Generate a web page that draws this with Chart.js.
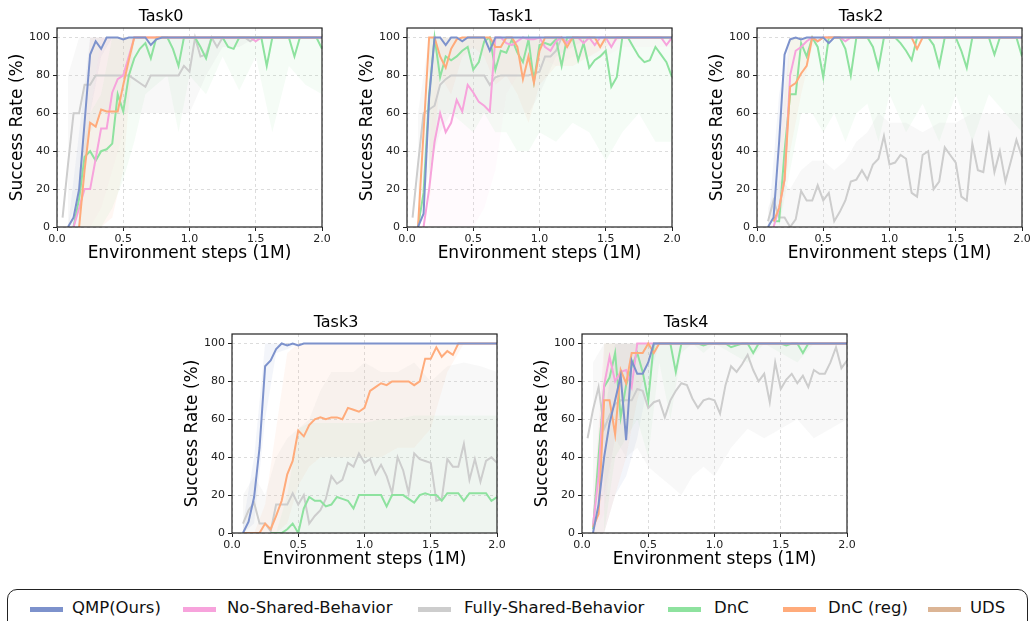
<!DOCTYPE html>
<html>
<head>
<meta charset="utf-8">
<script src="https://cdn.jsdelivr.net/npm/chart.js@4/dist/chart.umd.min.js"></script>
<style>
  html, body { margin: 0; padding: 0; background: #fff; }
  body { width: 1032px; height: 621px; position: relative; overflow: hidden; font-family: "DejaVu Sans", sans-serif; }
  canvas { position: absolute; }
  #legend { position: absolute; left: 7px; top: 589px; width: 1021px; height: 50px; border: 1.3px solid #222; border-radius: 10px; box-sizing: border-box; }
  .sw { position: absolute; height: 5px; width: 33px; top: 607px; }
  .lb { position: absolute; top: 598px; font-size: 16.5px; line-height: 20px; color: #111; white-space: nowrap; }
</style>
</head>
<body>
<div id="legend"></div>
<script>
// x positions of the logged evaluations (1M env steps)
const steps = [0.042, 0.083, 0.125, 0.167, 0.208, 0.25, 0.292, 0.333, 0.375, 0.417, 0.458, 0.5,
  0.542, 0.583, 0.625, 0.667, 0.708, 0.75, 0.792, 0.833, 0.875, 0.917, 0.958, 1.0,
  1.042, 1.083, 1.125, 1.167, 1.208, 1.25, 1.292, 1.333, 1.375, 1.417, 1.458, 1.5,
  1.542, 1.583, 1.625, 1.667, 1.708, 1.75, 1.792, 1.833, 1.875, 1.917, 1.958, 2.0];
// coarser x positions for the shaded std bands
const bandSteps = [0.083, 0.167, 0.25, 0.333, 0.417, 0.5, 0.583, 0.667, 0.75, 0.833,
  0.917, 1.0, 1.125, 1.25, 1.375, 1.5, 1.625, 1.75, 1.875, 2.0];
const xTicks = [0, 0.5, 1.0, 1.5, 2.0];
const yTicks = [0, 20, 40, 60, 80, 100];

const seriesKeys = ['qmp', 'noShared', 'fully', 'dnc', 'dncReg', 'uds'];
const seriesNames = ['QMP(Ours)', 'No-Shared-Behavior', 'Fully-Shared-Behavior', 'DnC', 'DnC (reg)', 'UDS'];
const taskTitles = ['Task0', 'Task1', 'Task2', 'Task3', 'Task4'];

// ---- Task0 ----
const task0Qmp = [null, 0, 5, 20, 55, 91, 98, 94, 100, 100, 100, 99,
  100, 100, 100, 100, 96, 99, 100, 100, 100, 100, 100, 100,
  100, 100, 100, 100, 100, 100, 100, 100, 100, 100, 100, 100,
  100, 100, 100, 100, 100, 100, 100, 100, 100, 100, 100, 100];
const task0NoShared = [null, null, 0, 10, 20, 20, 36, 52, 52, 71, 78, 80,
  90, 100, 100, 100, 100, 100, 100, 100, 100, 100, 100, 100,
  100, 100, 100, 100, 100, 100, 100, 100, 100, 100, 100, 98,
  100, 100, 100, 100, 100, 100, 100, 100, 100, 100, 100, 100];
const task0Fully = [5, 33, 60, 60, 75, 75, 80, 80, 80, 80, 80, 80,
  80, 78, 76, 74, 80, 80, 80, 80, 80, 80, 85, 82,
  100, 90, 91, 100, 95, 100, 100, 100, 100, 100, 98, 100,
  100, 100, 100, 100, 100, 100, 100, 100, 100, 100, 100, 100];
const task0DnC = [null, null, 0, 15, 37, 40, 35, 40, 41, 44, 70, 61,
  80, 89, 94, 97, 89, 100, 100, 100, 94, 85, 100, 100,
  100, 95, 89, 100, 100, 100, 95, 94, 100, 100, 100, 100,
  100, 85, 100, 100, 100, 100, 90, 100, 100, 100, 100, 94];
const task0DnCReg = [null, null, null, 0, 30, 55, 53, 62, 61, 61, 61, 75,
  88, 100, 100, 100, 100, 100, 100, 100, 100, 100, 100, 100,
  100, 100, 100, 100, 100, 100, 100, 100, 100, 100, 100, 100,
  100, 100, 100, 100, 100, 100, 100, 100, 100, 100, 100, 100];
const task0QmpLow = [0, 0, 60, 90, 100, 100, 100, 100, 100, 100, 100, 100, 100, 100, 100, 100, 100, 100, 100, 100];
const task0QmpHigh = [0, 50, 100, 100, 100, 100, 100, 100, 100, 100, 100, 100, 100, 100, 100, 100, 100, 100, 100, 100];
const task0FullyLow = [0, 20, 50, 60, 60, 60, 60, 60, 60, 60, 60, 60, 80, 95, 95, 100, 100, 100, 100, 100];
const task0FullyHigh = [80, 100, 100, 100, 100, 100, 100, 100, 100, 100, 100, 100, 100, 100, 100, 100, 100, 100, 100, 100];
const task0NoSharedLow = [null, 0, 0, 10, 30, 50, 100, 100, 100, 100, 100, 100, 100, 100, 100, 100, 100, 100, 100, 100];
const task0NoSharedHigh = [null, 30, 60, 100, 100, 100, 100, 100, 100, 100, 100, 100, 100, 100, 100, 100, 100, 100, 100, 100];
const task0DnCLow = [null, 0, 0, 0, 10, 25, 45, 70, 75, 80, 50, 80, 70, 90, 72, 90, 50, 85, 75, 70];
const task0DnCHigh = [null, 30, 60, 70, 100, 100, 100, 100, 100, 100, 100, 100, 100, 100, 100, 100, 100, 100, 100, 100];
const task0DnCRegLow = [null, 0, 0, 0, 5, 30, 100, 100, 100, 100, 100, 100, 100, 100, 100, 100, 100, 100, 100, 100];
const task0DnCRegHigh = [null, 20, 100, 100, 100, 100, 100, 100, 100, 100, 100, 100, 100, 100, 100, 100, 100, 100, 100, 100];

// ---- Task1 ----
const task1Qmp = [null, 0, 7, 68, 100, 100, 96, 100, 100, 98, 100, 100,
  100, 100, 93, 100, 100, 100, 100, 100, 100, 100, 100, 100,
  100, 100, 100, 100, 100, 100, 100, 100, 100, 100, 100, 100,
  100, 100, 100, 100, 100, 100, 100, 100, 100, 100, 100, 100];
const task1NoShared = [null, null, 0, 20, 45, 60, 50, 55, 67, 61, 75, 71,
  66, 64, 61, 100, 100, 97, 96, 98, 100, 99, 99, 100,
  95, 93, 98, 100, 97, 100, 100, 97, 100, 96, 100, 100,
  95, 100, 100, 100, 100, 100, 100, 100, 100, 100, 96, 100];
const task1Fully = [5, 33, 60, 62, 64, 75, 78, 80, 80, 80, 80, 80,
  80, 80, 75, 79, 80, 80, 80, 80, 80, 80, 81, 82,
  90, 90, 93, 100, 97, 100, 100, 100, 100, 100, 100, 100,
  100, 100, 100, 100, 100, 100, 100, 100, 100, 100, 100, 100];
const task1DnC = [null, 0, 18, 70, 100, 79, 90, 88, 90, 93, 95, 83,
  87, 98, 100, 83, 93, 92, 99, 92, 87, 99, 77, 96,
  97, 96, 99, 85, 100, 100, 88, 97, 84, 88, 90, 93,
  74, 79, 100, 100, 95, 90, 87, 88, 95, 91, 87, 79];
const task1DnCReg = [null, 0, 50, 100, 100, 90, 84, 94, 99, 100, 100, 100,
  100, 100, 100, 95, 95, 100, 100, 95, 78, 90, 76, 93,
  100, 100, 100, 100, 95, 100, 100, 100, 100, 100, 95, 100,
  100, 100, 100, 100, 100, 100, 100, 100, 100, 100, 100, 100];
const task1FullyLow = [0, 30, 50, 60, 60, 60, 60, 60, 60, 60, 60, 70, 90, 95, 100, 100, 100, 100, 100, 100];
const task1FullyHigh = [60, 100, 100, 100, 100, 100, 100, 100, 100, 100, 100, 100, 100, 100, 100, 100, 100, 100, 100, 100];
const task1NoSharedLow = [null, 0, 0, 0, 0, 0, 10, 30, 70, 80, 90, 90, 85, 90, 90, 90, 95, 95, 95, 95];
const task1NoSharedHigh = [null, 40, 100, 100, 100, 100, 100, 100, 100, 100, 100, 100, 100, 100, 100, 100, 100, 100, 100, 100];
const task1DnCLow = [null, 20, 60, 60, 55, 50, 60, 50, 50, 40, 40, 50, 45, 55, 50, 35, 50, 60, 45, 45];
const task1DnCHigh = [null, 100, 100, 100, 100, 100, 100, 100, 100, 100, 100, 100, 100, 100, 100, 100, 100, 100, 100, 100];
const task1DnCRegLow = [null, 10, 80, 70, 90, 95, 90, 75, 80, 70, 55, 75, 85, 85, 90, 95, 100, 100, 100, 100];
const task1DnCRegHigh = [null, 100, 100, 100, 100, 100, 100, 100, 100, 100, 100, 100, 100, 100, 100, 100, 100, 100, 100, 100];

// ---- Task2 ----
const task2Qmp = [null, 0, 5, 45, 91, 99, 100, 99, 100, 100, 100, 100,
  97, 100, 100, 100, 100, 100, 100, 100, 100, 100, 100, 100,
  100, 100, 100, 100, 100, 100, 100, 100, 100, 100, 100, 100,
  100, 100, 100, 100, 100, 100, 100, 100, 100, 100, 100, 100];
const task2NoShared = [null, null, 0, 10, 25, 80, 93, 95, 98, 100, 98, 100,
  100, 100, 100, 98, 100, 100, 100, 100, 100, 100, 100, 100,
  100, 100, 100, 100, 100, 100, 100, 100, 100, 100, 100, 100,
  100, 100, 100, 100, 100, 100, 100, 100, 100, 100, 100, 100];
const task2Fully = [null, 3, 14, 5, 5, 0, 4, 19, 14, 14, 22, 14,
  18, 3, 8, 14, 24, 25, 30, 25, 33, 36, 48, 33,
  34, 38, 36, 18, 16, 38, 40, 20, 24, 42, 38, 34,
  16, 14, 44, 30, 29, 48, 29, 40, 24, 35, 46, 37];
const task2DnC = [null, null, 3, 3, 40, 70, 70, 97, 90, 100, 95, 79,
  100, 100, 100, 94, 80, 100, 100, 100, 95, 84, 100, 100,
  100, 97, 93, 88, 100, 100, 100, 96, 85, 100, 100, 100,
  93, 84, 100, 100, 100, 100, 91, 100, 100, 100, 100, 90];
const task2DnCReg = [null, null, 3, 10, 25, 74, 76, 81, 85, 100, 98, 100,
  100, 100, 100, 100, 100, 100, 100, 100, 100, 100, 100, 100,
  100, 100, 100, 100, 94, 100, 100, 100, 100, 100, 100, 100,
  100, 100, 100, 100, 100, 100, 100, 100, 100, 100, 100, 100];
const task2QmpLow = [0, 10, 98, 100, 100, 100, 100, 100, 100, 100, 100, 100, 100, 100, 100, 100, 100, 100, 100, 100];
const task2QmpHigh = [0, 70, 100, 100, 100, 100, 100, 100, 100, 100, 100, 100, 100, 100, 100, 100, 100, 100, 100, 100];
const task2FullyLow = [0, 0, 0, 0, 0, 0, 0, 0, 0, 0, 0, 0, 0, 0, 0, 0, 0, 0, 0, 0];
const task2FullyHigh = [10, 25, 20, 30, 35, 35, 30, 35, 45, 50, 60, 55, 55, 50, 55, 55, 60, 60, 60, 60];
const task2DnCLow = [null, 0, 30, 60, 60, 50, 60, 45, 60, 65, 45, 70, 50, 65, 45, 70, 45, 70, 60, 50];
const task2DnCHigh = [null, 10, 100, 100, 100, 100, 100, 100, 100, 100, 100, 100, 100, 100, 100, 100, 100, 100, 100, 100];
const task2DnCRegLow = [null, 0, 40, 70, 95, 100, 100, 100, 100, 100, 100, 100, 100, 100, 100, 100, 100, 100, 100, 100];
const task2DnCRegHigh = [null, 40, 100, 100, 100, 100, 100, 100, 100, 100, 100, 100, 100, 100, 100, 100, 100, 100, 100, 100];

// ---- Task3 ----
const task3Qmp = [null, 0, 6, 19, 45, 88, 91, 97, 100, 99, 100, 99,
  100, 100, 100, 100, 100, 100, 100, 100, 100, 100, 100, 100,
  100, 100, 100, 100, 100, 100, 100, 100, 100, 100, 100, 100,
  100, 100, 100, 100, 100, 100, 100, 100, 100, 100, 100, 100];
const task3Fully = [null, 5, 12, 16, 5, 5, 1, 15, 15, 15, 21, 15,
  20, 5, 9, 12, 18, 30, 26, 28, 37, 35, 42, 37,
  39, 31, 36, 30, 21, 40, 33, 21, 42, 39, 38, 37,
  17, 18, 39, 35, 35, 47, 28, 39, 27, 38, 40, 37];
const task3DnC = [null, null, null, null, null, null, 0, 0, 0, 2, 5, 0,
  13, 19, 17, 17, 14, 15, 19, 18, 17, 13, 20, 20,
  20, 20, 20, 14, 20, 20, 20, 18, 16, 20, 21, 20,
  20, 17, 21, 21, 21, 17, 21, 21, 21, 21, 17, 19];
const task3DnCReg = [null, 0, 0, 0, 0, 5, 2, 9, 17, 31, 38, 54,
  51, 57, 60, 61, 60, 61, 61, 60, 66, 65, 64, 66,
  75, 77, 79, 78, 80, 80, 80, 80, 78, 80, 92, 92,
  98, 93, 96, 94, 100, 100, 100, 100, 100, 100, 100, 100];
const task3QmpLow = [0, 5, 60, 95, 97, 100, 100, 100, 100, 100, 100, 100, 100, 100, 100, 100, 100, 100, 100, 100];
const task3QmpHigh = [5, 40, 100, 100, 100, 100, 100, 100, 100, 100, 100, 100, 100, 100, 100, 100, 100, 100, 100, 100];
const task3FullyLow = [0, 0, 0, 0, 0, 0, 0, 0, 0, 0, 0, 0, 0, 0, 0, 0, 0, 0, 0, 0];
const task3FullyHigh = [20, 30, 20, 40, 50, 55, 60, 75, 85, 85, 85, 90, 85, 85, 90, 80, 88, 90, 88, 85];
const task3DnCLow = [null, null, null, 0, 0, 0, 0, 0, 0, 0, 0, 0, 0, 0, 0, 0, 0, 0, 0, 0];
const task3DnCHigh = [null, null, null, 0, 20, 55, 58, 58, 58, 58, 58, 58, 60, 60, 62, 62, 62, 62, 62, 62];
const task3DnCRegLow = [0, 0, 0, 0, 5, 25, 35, 40, 40, 40, 40, 40, 40, 45, 45, 55, 85, 100, 100, 100];
const task3DnCRegHigh = [0, 0, 15, 55, 95, 100, 100, 100, 100, 100, 100, 100, 100, 100, 100, 100, 100, 100, 100, 100];

// ---- Task4 ----
const task4Qmp = [null, 0, 15, 40, 58, 70, 83, 49, 91, 84, 84, 90,
  100, 100, 100, 100, 100, 100, 100, 100, 100, 100, 100, 100,
  100, 100, 100, 100, 100, 100, 100, 100, 100, 100, 100, 100,
  100, 100, 100, 100, 100, 100, 100, 100, 100, 100, 100, 100];
const task4NoShared = [null, 4, 30, 78, 93, 80, 85, 86, 77, 100, 100, 100,
  100, 100, 100, 100, 100, 100, 100, 100, 100, 100, 100, 100,
  100, 100, 100, 100, 100, 100, 100, 100, 100, 100, 100, 100,
  100, 100, 100, 100, 100, 100, 100, 100, 100, 100, 100, 100];
const task4Fully = [50, 65, 77, 55, 62, 68, 70, 70, 70, 76, 75, 66,
  69, 70, 61, 70, 75, 79, 78, 71, 66, 70, 71, 70,
  63, 78, 88, 85, 89, 94, 86, 80, 84, 69, 90, 76,
  81, 84, 79, 83, 77, 86, 84, 84, 90, 98, 87, 91];
const task4DnC = [null, 2, 40, 77, 82, 95, 61, 78, 88, 95, 85, 70,
  100, 100, 100, 100, 85, 100, 100, 100, 100, 99, 100, 100,
  100, 100, 98, 99, 100, 100, 95, 100, 100, 100, 100, 100,
  99, 100, 100, 95, 100, 100, 100, 100, 100, 100, 100, 100];
const task4DnCReg = [null, 3, 10, 70, 70, 52, 86, 79, 95, 95, 95, 100,
  95, 100, 100, 100, 100, 100, 100, 100, 100, 100, 100, 100,
  100, 100, 100, 100, 100, 100, 100, 100, 100, 100, 100, 100,
  100, 100, 100, 100, 100, 100, 100, 100, 100, 100, 100, 100];
const task4QmpLow = [0, 0, 20, 30, 50, 80, 100, 100, 100, 100, 100, 100, 100, 100, 100, 100, 100, 100, 100, 100];
const task4QmpHigh = [5, 60, 100, 100, 100, 100, 100, 100, 100, 100, 100, 100, 100, 100, 100, 100, 100, 100, 100, 100];
const task4NoSharedLow = [0, 10, 50, 60, 100, 100, 100, 100, 100, 100, 100, 100, 100, 100, 100, 100, 100, 100, 100, 100];
const task4NoSharedHigh = [10, 100, 100, 100, 100, 100, 100, 100, 100, 100, 100, 100, 100, 100, 100, 100, 100, 100, 100, 100];
const task4FullyLow = [10, 20, 50, 40, 45, 35, 30, 25, 20, 30, 35, 30, 45, 55, 50, 55, 60, 50, 55, 60];
const task4FullyHigh = [90, 100, 100, 100, 100, 100, 100, 100, 100, 100, 100, 100, 100, 100, 100, 100, 100, 100, 100, 100];
const task4DnCLow = [null, 0, 40, 50, 60, 40, 90, 60, 95, 100, 95, 100, 95, 90, 100, 95, 90, 100, 100, 100];
const task4DnCHigh = [null, 100, 100, 100, 100, 100, 100, 100, 100, 100, 100, 100, 100, 100, 100, 100, 100, 100, 100, 100];
const task4DnCRegLow = [0, 0, 20, 40, 70, 90, 100, 100, 100, 100, 100, 100, 100, 100, 100, 100, 100, 100, 100, 100];
const task4DnCRegHigh = [10, 100, 100, 100, 100, 100, 100, 100, 100, 100, 100, 100, 100, 100, 100, 100, 100, 100, 100, 100];

const colors = {
  qmp: '#7d92cc', noShared: '#f7a3dc', fully: '#cdcdcd',
  dnc: '#8ee29f', dncReg: '#ffab7b', uds: '#dcb595'
};
const bandColors = {
  qmp: 'rgba(125,146,204,0.09)', noShared: 'rgba(247,163,220,0.06)', fully: 'rgba(200,200,200,0.13)',
  dnc: 'rgba(142,226,159,0.09)', dncReg: 'rgba(255,171,123,0.09)'
};
// blue on top, grey at the back
const lineOrder = { qmp: 1, dncReg: 2, noShared: 3, dnc: 4, fully: 5, uds: 6 };

const tasks = [
  { left: 0, top: 0,
    lines: { qmp: task0Qmp, noShared: task0NoShared, fully: task0Fully, dnc: task0DnC, dncReg: task0DnCReg },
    bands: [['fully', task0FullyLow, task0FullyHigh], ['dnc', task0DnCLow, task0DnCHigh],
            ['noShared', task0NoSharedLow, task0NoSharedHigh], ['dncReg', task0DnCRegLow, task0DnCRegHigh],
            ['qmp', task0QmpLow, task0QmpHigh]] },
  { left: 350, top: 0,
    lines: { qmp: task1Qmp, noShared: task1NoShared, fully: task1Fully, dnc: task1DnC, dncReg: task1DnCReg },
    bands: [['fully', task1FullyLow, task1FullyHigh], ['dnc', task1DnCLow, task1DnCHigh],
            ['noShared', task1NoSharedLow, task1NoSharedHigh], ['dncReg', task1DnCRegLow, task1DnCRegHigh]] },
  { left: 700, top: 0,
    lines: { qmp: task2Qmp, noShared: task2NoShared, fully: task2Fully, dnc: task2DnC, dncReg: task2DnCReg },
    bands: [['fully', task2FullyLow, task2FullyHigh], ['dnc', task2DnCLow, task2DnCHigh],
            ['dncReg', task2DnCRegLow, task2DnCRegHigh], ['qmp', task2QmpLow, task2QmpHigh]] },
  { left: 175, top: 306,
    lines: { qmp: task3Qmp, fully: task3Fully, dnc: task3DnC, dncReg: task3DnCReg },
    bands: [['fully', task3FullyLow, task3FullyHigh], ['dnc', task3DnCLow, task3DnCHigh],
            ['dncReg', task3DnCRegLow, task3DnCRegHigh], ['qmp', task3QmpLow, task3QmpHigh]] },
  { left: 525, top: 306,
    lines: { qmp: task4Qmp, noShared: task4NoShared, fully: task4Fully, dnc: task4DnC, dncReg: task4DnCReg },
    bands: [['fully', task4FullyLow, task4FullyHigh], ['dnc', task4DnCLow, task4DnCHigh],
            ['noShared', task4NoSharedLow, task4NoSharedHigh], ['dncReg', task4DnCRegLow, task4DnCRegHigh],
            ['qmp', task4QmpLow, task4QmpHigh]] }
];

function pts(xs, ys) {
  return xs.map((x, i) => ({ x: x, y: ys[i] }));
}

// matplotlib style box around the axes
const frame = {
  id: 'frame',
  afterDatasetsDraw(chart) {
    const { ctx, chartArea: a } = chart;
    ctx.save();
    ctx.strokeStyle = '#222';
    ctx.lineWidth = 1.2;
    ctx.strokeRect(a.left, a.top, a.right - a.left, a.bottom - a.top);
    ctx.restore();
  }
};

const font = 'DejaVu Sans';

function chart(task, title) {
  const canvas = document.createElement('canvas');
  canvas.width = 334;
  canvas.height = 267;
  canvas.style.left = task.left + 'px';
  canvas.style.top = task.top + 'px';
  document.body.appendChild(canvas);

  const datasets = [];
  task.bands.forEach(([key, lo, hi]) => {
    datasets.push({ data: pts(bandSteps, lo), borderWidth: 0, borderColor: 'rgba(0,0,0,0)',
      pointRadius: 0, fill: false, order: 10 });
    datasets.push({ data: pts(bandSteps, hi), borderWidth: 0, borderColor: 'rgba(0,0,0,0)',
      pointRadius: 0, fill: '-1', backgroundColor: bandColors[key], order: 10 });
  });
  seriesKeys.forEach(key => {
    if (!task.lines[key]) return;
    datasets.push({
      data: pts(steps, task.lines[key]),
      borderColor: colors[key],
      borderWidth: 2,
      pointRadius: 0,
      fill: false,
      order: lineOrder[key]
    });
  });

  new Chart(canvas, {
    type: 'line',
    data: { datasets: datasets },
    options: {
      responsive: false,
      animation: false,
      devicePixelRatio: 1,
      layout: { padding: { left: 0, right: 12, top: 0, bottom: 0 } },
      plugins: {
        legend: { display: false },
        tooltip: { enabled: false },
        title: {
          display: true, text: title, color: '#000',
          font: { family: font, size: 16, weight: 'normal', lineHeight: 1.2 },
          padding: { top: 7, bottom: 1.8 }
        }
      },
      scales: {
        x: {
          type: 'linear', min: 0, max: 2,
          afterBuildTicks: s => { s.ticks = xTicks.map(v => ({ value: v })); },
          afterFit: s => { s.height = 40; },
          ticks: {
            callback: v => v.toFixed(1), color: '#222', padding: 2,
            font: { family: font, size: 11 }, maxRotation: 0, autoSkip: false
          },
          grid: { color: '#d4d4d4', lineWidth: 0.8, tickColor: '#222', tickLength: 4, tickWidth: 1 },
          border: { display: false, dash: [3, 3] },
          title: {
            display: true, text: 'Environment steps (1M)', color: '#000',
            font: { family: font, size: 17 }, padding: { top: 0, bottom: 3 }
          }
        },
        y: {
          min: 0, max: 105,
          afterBuildTicks: s => { s.ticks = yTicks.map(v => ({ value: v })); },
          afterFit: s => { s.width = 57; },
          ticks: { color: '#222', padding: 3, font: { family: font, size: 11 } },
          grid: { color: '#d4d4d4', lineWidth: 0.8, tickColor: '#222', tickLength: 4, tickWidth: 1 },
          border: { display: false, dash: [3, 3] },
          title: {
            display: true, text: 'Success Rate (%)', color: '#000',
            font: { family: font, size: 17 }, padding: { top: 7, bottom: 0 }
          }
        }
      }
    },
    plugins: [frame]
  });
}

tasks.forEach((t, i) => chart(t, taskTitles[i]));

// legend along the bottom
const swatchX = [30, 183, 418, 668, 783, 928];
const labelX = [72, 227, 464, 714, 828, 970];
seriesKeys.forEach((key, i) => {
  const sw = document.createElement('div');
  sw.className = 'sw';
  sw.style.left = swatchX[i] + 'px';
  sw.style.background = colors[key];
  document.body.appendChild(sw);
  const lb = document.createElement('div');
  lb.className = 'lb';
  lb.style.left = labelX[i] + 'px';
  lb.textContent = seriesNames[i];
  document.body.appendChild(lb);
});
</script>
</body>
</html>
